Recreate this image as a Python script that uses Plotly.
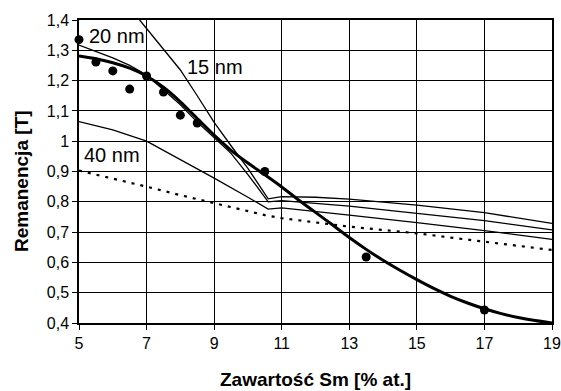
import plotly.graph_objects as go

# ---- data ----
dots_x = [5, 5.5, 6, 6.5, 7, 7.5, 8, 8.5, 10.5, 13.5, 17]
dots_y = [1.335, 1.261, 1.232, 1.172, 1.215, 1.162, 1.086, 1.06, 0.90, 0.618, 0.443]

fit_x = [5, 5.5, 6, 6.5, 7, 7.5, 8, 8.5, 9, 9.5, 10, 10.5, 11, 11.5, 12, 12.5, 13,
         13.5, 14, 14.5, 15, 15.5, 16, 16.5, 17, 17.5, 18, 18.5, 19]
fit_y = [1.281, 1.272, 1.259, 1.241, 1.215, 1.178, 1.13, 1.075, 1.02, 0.97, 0.928,
         0.889, 0.849, 0.806, 0.765, 0.724, 0.682, 0.643, 0.607, 0.574, 0.543, 0.514,
         0.488, 0.466, 0.447, 0.431, 0.418, 0.408, 0.40]

nm15_x = [5, 6, 6.5, 7, 7.5, 8, 8.5, 9, 9.5, 10, 10.6, 11, 12, 13, 15, 17, 19]
nm15_y = [1.62, 1.50, 1.44, 1.372, 1.305, 1.235, 1.15, 1.062, 0.985, 0.91, 0.81,
          0.817, 0.815, 0.809, 0.789, 0.764, 0.729]

nm20_x = [5, 5.5, 6, 6.5, 7, 7.5, 8, 8.5, 9, 9.5, 10, 10.6, 11, 12, 13, 15, 17, 19]
nm20_y = [1.317, 1.297, 1.275, 1.25, 1.218, 1.17, 1.12, 1.063, 1.01, 0.96, 0.89,
          0.80, 0.804, 0.795, 0.786, 0.762, 0.738, 0.707]

nm40_x = [5, 6, 7, 8, 9, 10, 10.6, 11, 12, 13, 15, 17, 19]
nm40_y = [1.065, 1.037, 1.0, 0.94, 0.878, 0.815, 0.776, 0.78, 0.767, 0.756, 0.731,
          0.705, 0.676]

dotted_x = [5, 6, 7, 8, 9, 10, 10.5, 11, 12, 13, 14, 15, 16, 17, 18, 19]
dotted_y = [0.903, 0.877, 0.85, 0.822, 0.795, 0.77, 0.756, 0.746, 0.731, 0.718,
            0.707, 0.696, 0.682, 0.668, 0.655, 0.641]

x_ticks = [5, 7, 9, 11, 13, 15, 17, 19]
y_ticks = [0.4, 0.5, 0.6, 0.7, 0.8, 0.9, 1.0, 1.1, 1.2, 1.3, 1.4]
y_tick_text = ["0,4", "0,5", "0,6", "0,7", "0,8", "0,9", "1", "1,1", "1,2", "1,3", "1,4"]

labels = [("20 nm", 6.12, 1.346), ("15 nm", 9.02, 1.245), ("40 nm", 5.99, 0.956)]

FONT = "Arial, Liberation Sans, sans-serif"

fig = go.Figure()
for xs, ys in [(nm15_x, nm15_y), (nm20_x, nm20_y), (nm40_x, nm40_y)]:
    fig.add_trace(go.Scatter(x=xs, y=ys, mode="lines",
                             line=dict(color="black", width=1.3), showlegend=False))
fig.add_trace(go.Scatter(x=dotted_x, y=dotted_y, mode="lines",
                         line=dict(color="black", width=2.2, dash="3px,6px"),
                         showlegend=False))
fig.add_trace(go.Scatter(x=fit_x, y=fit_y, mode="lines",
                         line=dict(color="black", width=3, shape="spline", smoothing=0.6),
                         showlegend=False))
fig.add_trace(go.Scatter(x=dots_x, y=dots_y, mode="markers",
                         marker=dict(color="black", size=9), showlegend=False,
                         cliponaxis=False))

for txt, lx, ly in labels:
    fig.add_annotation(x=lx, y=ly, text=txt, showarrow=False,
                       font=dict(family=FONT, size=20, color="black"),
                       xanchor="center", yanchor="middle")

fig.add_annotation(xref="paper", yref="paper", x=0.501, y=-0.186,
                   text="<b>Zawartość Sm [% at.]</b>", showarrow=False,
                   font=dict(family=FONT, size=19, color="black"),
                   xanchor="center", yanchor="middle")
fig.add_annotation(xref="paper", yref="paper", x=-0.1216, y=0.467,
                   text="<b>Remanencja [T]</b>", showarrow=False, textangle=-90,
                   font=dict(family=FONT, size=19, color="black"),
                   xanchor="center", yanchor="middle")

axis_common = dict(showgrid=True, gridcolor="black", gridwidth=1,
                   showline=True, linecolor="black", linewidth=1.5, mirror=True,
                   ticks="outside", ticklen=5, tickcolor="black", automargin=False,
                   tickfont=dict(family=FONT, size=16, color="black"), zeroline=False)

fig.update_xaxes(range=[5, 19], tickvals=x_ticks, **axis_common)
fig.update_yaxes(range=[0.4, 1.4], tickvals=y_ticks, ticktext=y_tick_text, **axis_common)

fig.update_layout(width=561, height=391,
                  margin=dict(l=79, r=9, t=20, b=68),
                  paper_bgcolor="white", plot_bgcolor="white",
                  font=dict(family=FONT, color="black"))

fig.write_html("out.html")
